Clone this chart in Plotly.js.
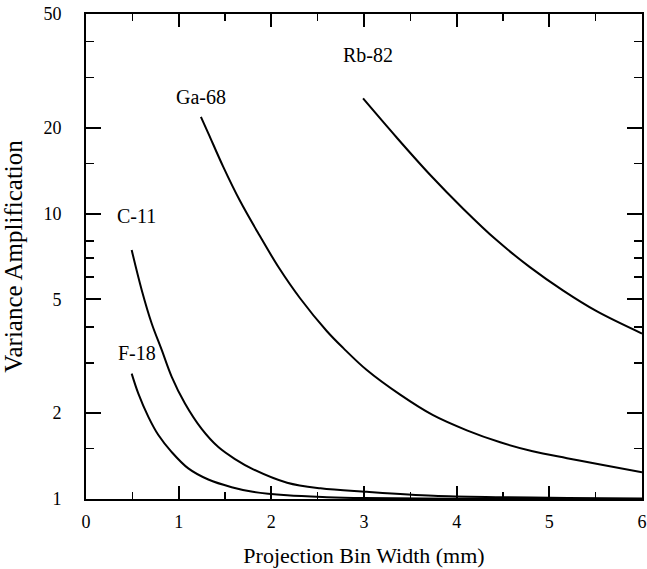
<!DOCTYPE html>
<html>
<head>
<meta charset="utf-8">
<script src="https://cdn.plot.ly/plotly-3.0.1.min.js"></script>
<style>html,body{margin:0;padding:0;background:#fff;}#chart{width:647px;height:569px;}</style>
</head>
<body>
<div id="chart"></div>
<script>
// Data
const rbX = [2.99, 3.35, 3.71, 4.07, 4.43, 4.79, 5.15, 5.51, 6.0];
const rbY = [25.3, 18.5, 13.7, 10.4, 8.07, 6.49, 5.37, 4.55, 3.80];

const gaX = [1.24, 1.32, 1.48, 1.66, 1.87, 2.075, 2.31, 2.60, 2.78, 3.03, 3.39, 3.74, 4.11, 4.47, 4.82, 5.19, 5.55, 6.0];
const gaY = [21.8, 19.1, 14.6, 11.1, 8.41, 6.51, 5.05, 3.87, 3.37, 2.83, 2.32, 1.97, 1.74, 1.58, 1.47, 1.39, 1.32, 1.24];

const cX = [0.493, 0.601, 0.709, 0.817, 0.925, 1.068, 1.248, 1.428, 1.608, 1.805, 2.17, 2.53, 3.03, 3.75, 4.5, 5.2, 6.0];
const cY = [7.45, 5.40, 4.12, 3.33, 2.68, 2.16, 1.76, 1.52, 1.38, 1.27, 1.14, 1.09, 1.06, 1.027, 1.015, 1.008, 1.005];

const fX = [0.493, 0.565, 0.673, 0.781, 0.925, 1.104, 1.32, 1.572, 1.80, 2.17, 2.6, 3.0, 4.0, 5.0, 6.0];
const fY = [2.75, 2.34, 1.94, 1.675, 1.46, 1.28, 1.17, 1.10, 1.06, 1.03, 1.015, 1.008, 1.003, 1.001, 1.0];

const labels = ["Rb-82", "Ga-68", "C-11", "F-18"];
const labelX = [3.04, 1.24, 0.55, 0.55];
const labelY = [36.0, 25.6, 9.8, 3.24];

const xMajor = [0, 1, 2, 3, 4, 5, 6];
const xMinor = [0.5, 1.5, 2.5, 3.5, 4.5, 5.5];
const yMajor = [1, 2, 5, 10, 20, 50];
const yMinor = [1.5, 3, 4, 6, 7, 8, 15, 30, 40];

const font = "Liberation Serif";
const lineStyle = {color: "#000", width: 2, shape: "spline", smoothing: 1};

const traces = [
  {x: rbX, y: rbY, mode: "lines", line: lineStyle, showlegend: false, hoverinfo: "skip"},
  {x: gaX, y: gaY, mode: "lines", line: lineStyle, showlegend: false, hoverinfo: "skip"},
  {x: cX, y: cY, mode: "lines", line: lineStyle, showlegend: false, hoverinfo: "skip"},
  {x: fX, y: fY, mode: "lines", line: lineStyle, showlegend: false, hoverinfo: "skip"}
];

const annotations = labels.map((t, i) => ({
  x: labelX[i], y: Math.log10(labelY[i]), xref: "x", yref: "y",
  text: t, showarrow: false, font: {family: font, size: 20, color: "#000"}
}));

const layout = {
  width: 647, height: 569,
  margin: {l: 86, r: 5, t: 14, b: 70},
  paper_bgcolor: "#fff", plot_bgcolor: "#fff",
  font: {family: font, size: 18, color: "#000"},
  xaxis: {
    range: [0, 6], showgrid: false, zeroline: false,
    showline: true, linecolor: "#000", linewidth: 2, mirror: "ticks",
    tickmode: "array", tickvals: xMajor, ticktext: xMajor.map(String),
    ticks: "inside", ticklen: 13, tickwidth: 2, tickcolor: "#000",
    ticklabelstandoff: 5,
    tickfont: {family: font, size: 18, color: "#000"},
    minor: {tickmode: "array", tickvals: xMinor, ticks: "inside", ticklen: 7, tickwidth: 1.5, tickcolor: "#000", showgrid: false},
    title: {text: "Projection Bin Width (mm)", font: {family: font, size: 22, color: "#000"}, standoff: 17}
  },
  yaxis: {
    type: "log", range: [0, Math.log10(50)], showgrid: false, zeroline: false,
    showline: true, linecolor: "#000", linewidth: 2, mirror: "ticks",
    tickmode: "array", tickvals: yMajor, ticktext: yMajor.map(String),
    ticks: "inside", ticklen: 15, tickwidth: 2, tickcolor: "#000",
    ticklabelstandoff: 19,
    tickfont: {family: font, size: 18, color: "#000"},
    minor: {tickmode: "array", tickvals: yMinor, ticks: "inside", ticklen: 8, tickwidth: 1.5, tickcolor: "#000", showgrid: false},
    title: {text: "Variance Amplification", font: {family: font, size: 25, color: "#000"}, standoff: 16}
  },
  annotations: annotations
};

Plotly.newPlot("chart", traces, layout, {displayModeBar: false, staticPlot: true});
</script>
</body>
</html>
